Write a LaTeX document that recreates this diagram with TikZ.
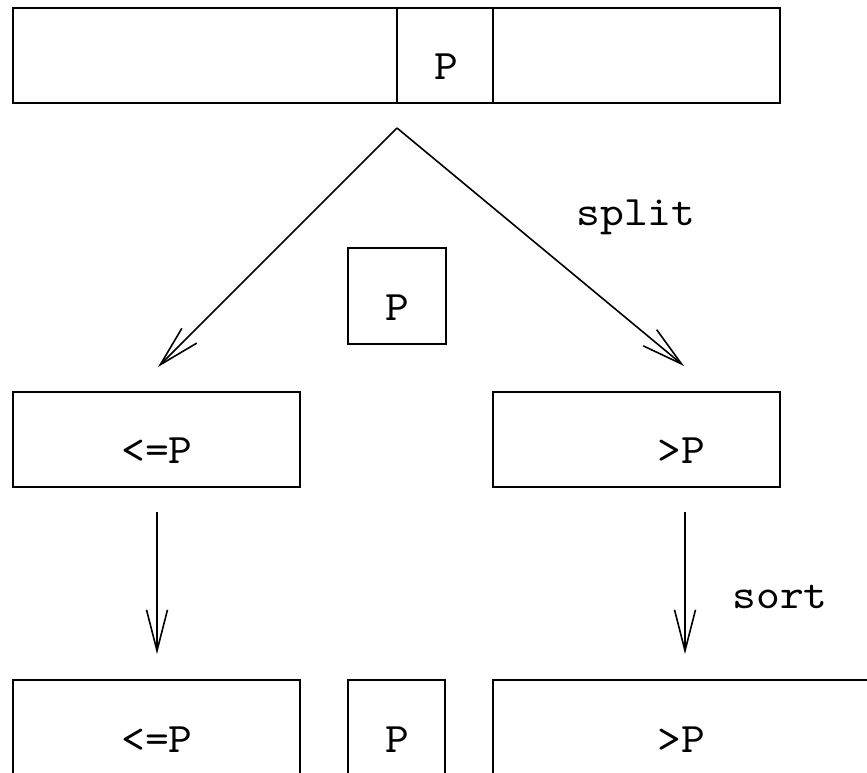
\documentclass[tikz,border=0pt]{standalone}
\usepackage{fontspec}
\setmonofont{lmmono10-regular.otf}[FakeStretch=1.08]
\usetikzlibrary{arrows.meta}
\tikzset{
  box/.style={draw, line width=1.2pt, inner sep=0pt, outer sep=0pt},
  lbl/.style={inner sep=0pt, outer sep=0pt, anchor=base, font=\ttfamily\fontsize{42}{50}\selectfont},
  arr/.style={line width=1.6pt, -{Straight Barb[length=41pt, width=21pt, line width=1.6pt]}},
  openbox/.style={line width=1.2pt}
}
\begin{document}
\begin{tikzpicture}[x=1pt, y=-1pt]
\useasboundingbox (0,0) rectangle (867,772);
\clip (0,0) rectangle (867,772);
% top array
\node[box, minimum width=384pt, minimum height=95pt, anchor=north west] (topL) at (13,8) {};
\node[box, minimum width=96pt, minimum height=95pt, anchor=north west] (topM) at (397,8) {};
\node[box, minimum width=287pt, minimum height=95pt, anchor=north west] (topR) at (493,8) {};
\node[lbl] (tP) at (446,79) {P};
% split arrows
\coordinate (apex) at (397,128);
\coordinate (ltip) at (158,367);
\coordinate (rtip) at (684,366);
\draw[arr] (apex) -- (ltip);
\draw[arr] (apex) -- (rtip);
\node[lbl] (split) at (636,225) {split};
% pivot
\node[box, minimum width=98pt, minimum height=96pt, anchor=north west] (piv) at (348,248) {};
\node[lbl] (pivP) at (397,320) {P};
% middle row
\node[box, minimum width=287pt, minimum height=95pt, anchor=north west] (midL) at (13,392) {};
\node[box, minimum width=287pt, minimum height=95pt, anchor=north west] (midR) at (493,392) {};
\node[lbl] (midLt) at (157,463) {<=P};
\node[lbl] (midRt) at (681,463) {>P};
% sort arrows
\coordinate (ls) at (157,512);
\coordinate (le) at (157,654);
\coordinate (rs) at (685,512);
\coordinate (re) at (685,654);
\draw[arr] (ls) -- (le);
\draw[arr] (rs) -- (re);
\node[lbl] (sort) at (780,608) {sort};
% bottom row (cut off by the frame)
\coordinate (bL1) at (13,790);
\coordinate (bL2) at (13,680);
\coordinate (bL3) at (300,680);
\coordinate (bL4) at (300,790);
\draw[openbox] (bL1) -- (bL2) -- (bL3) -- (bL4);
\coordinate (bM1) at (348,790);
\coordinate (bM2) at (348,680);
\coordinate (bM3) at (445,680);
\coordinate (bM4) at (445,790);
\draw[openbox] (bM1) -- (bM2) -- (bM3) -- (bM4);
\coordinate (bR1) at (493,790);
\coordinate (bR2) at (493,680);
\coordinate (bR3) at (880,680);
\draw[openbox] (bR1) -- (bR2) -- (bR3);
\node[lbl] (botLt) at (157,752) {<=P};
\node[lbl] (botMt) at (397,752) {P};
\node[lbl] (botRt) at (681,752) {>P};
\end{tikzpicture}
\end{document}
